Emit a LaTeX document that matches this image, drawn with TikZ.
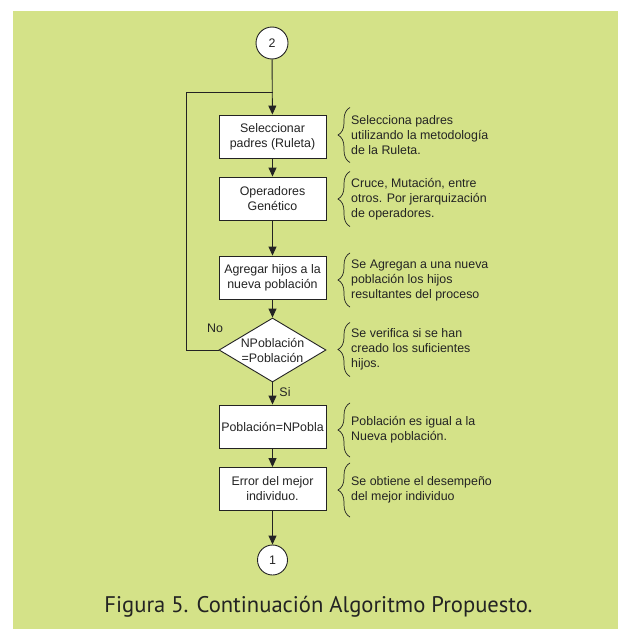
\documentclass[tikz,border=0pt]{standalone}
\usepackage{fontspec}
\setmainfont{Liberation Sans}
\newfontfamily\capfont{PT Sans}
\usetikzlibrary{arrows.meta,decorations.pathreplacing,shapes.geometric,calc}
\definecolor{bgreen}{RGB}{212,226,136}
\definecolor{ink}{RGB}{35,35,35}
\tikzset{
  box/.style={draw=ink,line width=0.9pt,fill=white,minimum width=107pt,minimum height=43pt,inner sep=1pt,align=center,text=ink,font=\fontsize{12.4}{15}\selectfont},
  dec/.style={draw=ink,line width=0.9pt,fill=white,diamond,aspect=1.67,minimum width=107pt,minimum height=64pt,inner sep=0pt,align=center,text=ink,font=\fontsize{12.4}{15}\selectfont},
  conn/.style={draw=ink,line width=0.9pt,fill=white,circle,minimum size=32pt,inner sep=0pt,text=ink,font=\fontsize{12.4}{15}\selectfont},
  flow/.style={draw=ink,line width=0.9pt,-{Triangle[length=9pt,width=8pt]}},
  note/.style={anchor=west,align=left,text=ink,inner sep=0pt,font=\fontsize{12.4}{15}\selectfont},
  brc/.style={draw=ink,line width=0.7pt,decorate,decoration={brace,amplitude=12pt}},
  lbl/.style={text=ink,font=\fontsize{12.4}{15}\selectfont,inner sep=0pt}
}
\begin{document}
\begin{tikzpicture}[x=1pt,y=-1pt]
\useasboundingbox (0,0) rectangle (618,629);
\fill[white] (0,0) rectangle (618,629);
\fill[bgreen] (13,11) rectangle (618,629);

\node[conn] (c2) at (272,43) {2};
\node[box] (b1) at (272.5,136.5) {Seleccionar\\padres (Ruleta)};
\node[box] (b2) at (272.5,198.5) {Operadores\\Genético};
\node[box] (b3) at (272.5,277.5) {Agregar hijos a la\\nueva población};
\node[dec] (d1) at (272.5,350) {NPoblación\\=Población};
\node[box] (b4) at (272.5,426.5) {Población=NPobla};
\node[box] (b5) at (272.5,489) {Error del mejor\\individuo.};
\node[conn,minimum size=30pt] (c1) at (272.5,560) {1};

\coordinate (j) at (272.5,92);
\coordinate (l1) at (186,350);
\coordinate (l2) at (186,92);

\draw[flow] (c2) -- (b1);
\draw[flow] (b1) -- (b2);
\draw[flow] (b2) -- (b3);
\draw[flow] (b3) -- (d1);
\draw[flow] (d1) -- (b4);
\draw[flow] (b4) -- (b5);
\draw[flow] (b5) -- (c1);
\draw[draw=ink,line width=0.9pt] (d1.west) -- (l1) -- (l2) -- (j);

\node[lbl] (no) at (215,328) {No};
\node[lbl] (si) at (285,392) {Si};

\node[note] (n1) at (351,135) {Selecciona padres\\utilizando la metodología\\de la Ruleta.};
\node[note] (n2) at (351,199) {Cruce, Mutación, entre\\otros. Por jerarquización\\de operadores.};
\node[note] (n3) at (351,280) {Se Agregan a una nueva\\población los hijos\\resultantes del proceso};
\node[note] (n4) at (351,349.5) {Se verifica si se han\\creado los suficientes\\hijos.};
\node[note] (n5) at (351,430) {Población es igual a la\\Nueva población.};
\node[note] (n6) at (351,490) {Se obtiene el desempeño\\del mejor individuo};

\foreach \n/\h in {n1/27.5,n2/27.5,n3/27,n4/27,n5/27,n6/27}{
  \draw[brc] ($(\n.west)+(-1,\h)$) -- ($(\n.west)+(-1,-\h)$);
}

\node[text=ink,font=\capfont\fontsize{22.6}{26}\selectfont,anchor=base,inner sep=0pt] (cap) at (318.5,612) {Figura 5. Continuación Algoritmo Propuesto.};
\end{tikzpicture}
\end{document}
